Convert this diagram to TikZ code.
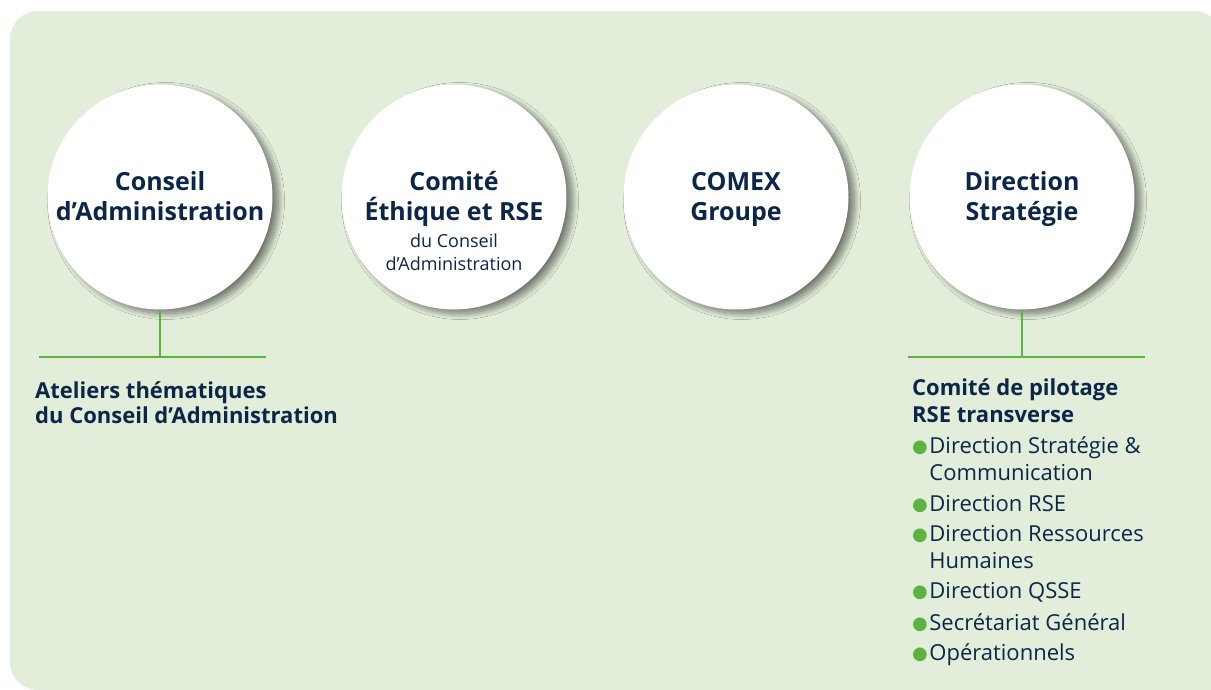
\documentclass[tikz,border=0pt]{standalone}
\usepackage{fontspec}
\setmainfont{Open Sans}
\newfontfamily\symfont{DejaVu Sans}
\usetikzlibrary{positioning, shadows.blur}

\definecolor{bgGreen}{HTML}{E3EEDA}
\definecolor{navy}{HTML}{0C2649}
\definecolor{lineGreen}{HTML}{5DB33F}
\newcommand{\gdot}{{\color{lineGreen}\symfont\fontsize{18}{18}\selectfont\raisebox{0.5pt}{●}}}

\begin{document}
\begin{tikzpicture}[x = 1pt, y = 1pt,
    every node/.style = {text = navy},
    organ/.style = {circle, fill = white, minimum size = 225pt, inner sep = 0pt,
        blur shadow = {shadow xshift = 6pt, shadow yshift = -4pt, shadow blur radius = 6pt, shadow blur steps = 14, shadow opacity = 50}},
    organname/.style = {align = center, font = \bfseries\fontsize{25}{29}\selectfont},
    organsub/.style = {align = center, font = \fontsize{18}{23}\selectfont},
    link/.style = {lineGreen, line width = 2.6pt}]
    \useasboundingbox (0,0) rectangle (1211,-690);
    % background
    \fill[bgGreen, rounded corners = 28pt] (10,-11) rectangle (1222,-690);
    \fill[bgGreen] (1100,-500) rectangle (1211,-690);

    % circles
    \node[organ] (conseil) at (160,-197) {};
    \node[organ] (ethique) at (454,-197) {};
    \node[organ] (comex) at (736,-197) {};
    \node[organ] (strategie) at (1022,-197) {};

    % texts (base = last line)
    \node[organname, anchor = base] (conseil-t) at (160,-220) {Conseil\\d’Administration};
    \node[organname, anchor = base] (ethique-t) at (454,-220) {Comité\\Éthique et RSE};
    \node[organsub, anchor = base] (ethique-s) at (454,-270) {du Conseil\\d’Administration};
    \node[organname, anchor = base] (comex-t) at (736,-220) {COMEX\\Groupe};
    \node[organname, anchor = base] (strategie-t) at (1022,-220) {Direction\\Stratégie};

    % links
    \coordinate (conseil-bar) at (conseil.south |- 0,-357);
    \coordinate (conseil-w) at (39,-357);
    \coordinate (conseil-e) at (266,-357);
    \draw[link] (conseil.south) -- (conseil-bar);
    \draw[link] (conseil-w) -- (conseil-e);

    \coordinate (strategie-bar) at (strategie.south |- 0,-357);
    \coordinate (strategie-w) at (908,-357);
    \coordinate (strategie-e) at (1145,-357);
    \draw[link] (strategie.south) -- (strategie-bar);
    \draw[link] (strategie-w) -- (strategie-e);

    % sub bodies
    \node[anchor = base west, align = left, inner sep = 0pt, font = \bfseries\fontsize{22}{25}\selectfont] (ateliers)
        at (35,-423) {Ateliers thématiques\\du Conseil d’Administration};

    \node[anchor = base west, inner sep = 0pt, font = \fontsize{22}{27}\selectfont] (copil) at (912,-395) {%
        \begin{tabular}[t]{@{}l@{\hspace{1.5pt}}l@{}}
            \multicolumn{2}{@{}l@{}}{\bfseries Comité de pilotage}\\
            \multicolumn{2}{@{}l@{}}{\bfseries RSE transverse}\\[4pt]
            \gdot & Direction Stratégie \&\\
                  & Communication\\[4pt]
            \gdot & Direction RSE\\[3pt]
            \gdot & Direction Ressources\\
                  & Humaines\\[3pt]
            \gdot & Direction QSSE\\[5pt]
            \gdot & Secrétariat Général\\[3pt]
            \gdot & Opérationnels
        \end{tabular}};
\end{tikzpicture}
\end{document}
